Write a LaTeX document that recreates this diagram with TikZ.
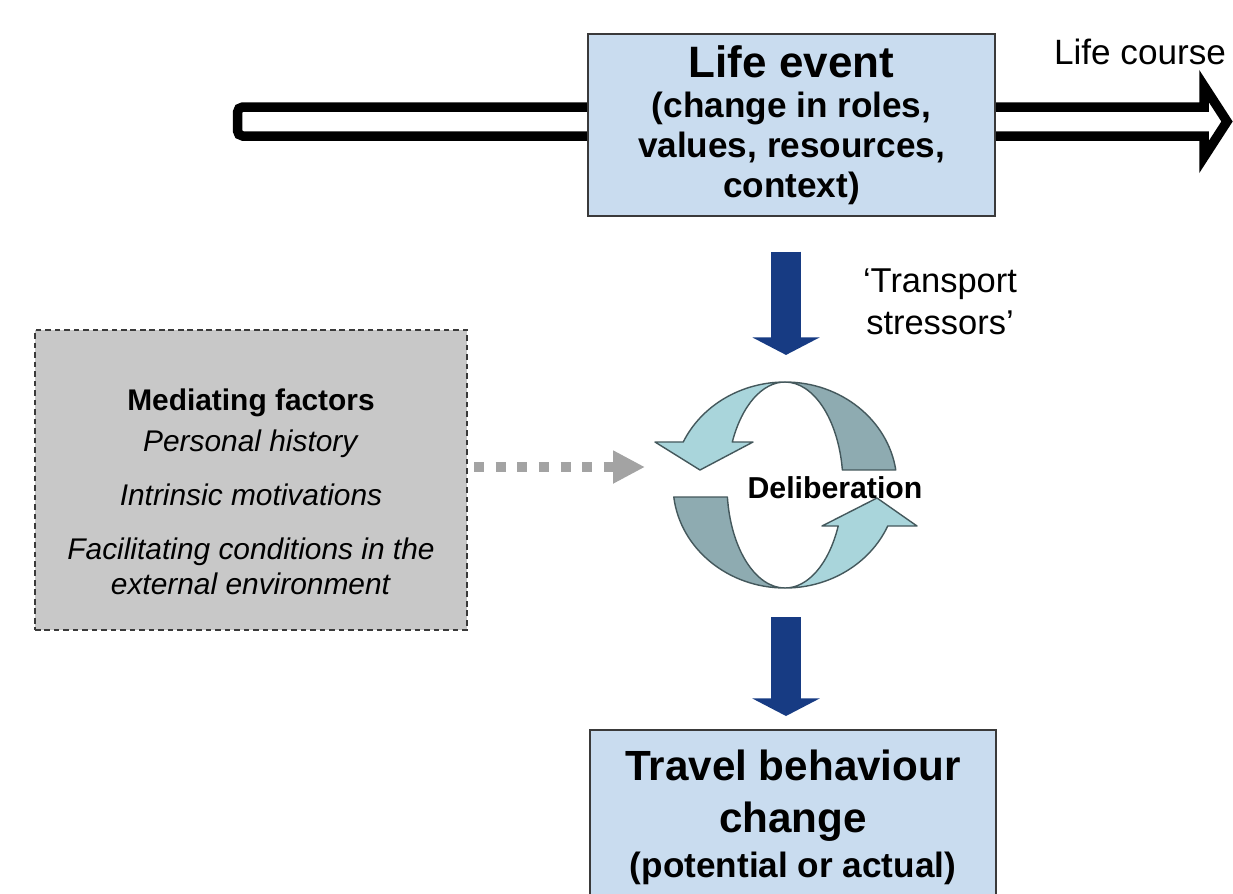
\documentclass[tikz,border=0pt]{standalone}
\usepackage{fontspec}
\setmainfont{Liberation Sans}
\usepackage{tikz}
\usetikzlibrary{arrows.meta,positioning}
\definecolor{BoxBlue}{HTML}{C9DCEF}
\definecolor{BoxEdge}{HTML}{3A3A3A}
\definecolor{MedGray}{HTML}{C8C8C8}
\definecolor{CycLight}{HTML}{A9D5DB}
\definecolor{CycDark}{HTML}{8EABB1}
\definecolor{CycEdge}{HTML}{44585C}
\definecolor{NavyArrow}{HTML}{173B83}
\definecolor{DotGray}{HTML}{A3A3A3}
\tikzset{
  bluebox/.style={draw=BoxEdge,line width=0.6pt,fill=BoxBlue,align=center,inner xsep=0pt},
  medbox/.style={draw=BoxEdge,dash pattern=on 1.6pt off 1.1pt,line width=0.5pt,fill=MedGray},
  medtext/.style={align=center,font=\fontsize{8.5}{10}\selectfont},
  cyclight/.style={fill=CycLight,draw=CycEdge,line width=0.4pt,line join=round},
  cycdark/.style={fill=CycDark,draw=CycEdge,line width=0.4pt,line join=round},
  navyarrow/.style={-{Triangle[width=19pt,length=5pt]},line width=8.5pt,draw=NavyArrow},
  dotarrow/.style={-{Triangle[width=8.8pt,length=9.1pt]},line width=2.8pt,draw=DotGray,dash pattern=on 2.85pt off 3.3pt},
  coursearrow/.style={draw=black,line width=2.7pt,fill=white,line join=miter},
  plainlabel/.style={align=center,font=\fontsize{9.8}{12}\selectfont}
}

\begin{document}
\begin{tikzpicture}[x=0.01cm,y=-0.01cm]
\useasboundingbox (0,0) rectangle (1233,893);
\fill[white] (0,0) rectangle (1233,893);
\draw[coursearrow] (700,107) -- (1204,107) -- (1204,86) -- (1227,121.5) -- (1204,157) -- (1204,136) [rounded corners=1.5pt] -- (237.5,136) -- (237.5,107) -- cycle;
\node[bluebox,minimum width=4.07cm,minimum height=1.78cm,font=\fontsize{10}{11.4}\selectfont\bfseries] (lifeevent) at (791.5,125)
  {{\fontsize{12.5}{11.4}\selectfont Life event}\\(change in roles,\\values, resources,\\context)};
\node[plainlabel,font=\fontsize{10}{12}\selectfont] (lifecourse) at (1140,52) {Life course};
\node[medbox,minimum width=4.32cm,minimum height=3.0cm] (mediating) at (251,480) {};
\node[medtext] (mediatingtext) at (251,492)
  {\textbf{Mediating factors}\\[1.6pt]\textit{Personal history}\\[5.4pt]\textit{Intrinsic motivations}\\[5.4pt]\textit{Facilitating conditions in the}\\\textit{external environment}};
\node[bluebox,anchor=north,minimum width=4.06cm,inner ysep=0.2cm,font=\fontsize{12}{12.8}\selectfont\bfseries] (travel) at (793,729)
  {Travel behaviour\\[2pt]change\\{\fontsize{10}{12.8}\selectfont (potential or actual)}};
\coordinate (cyc) at (786,485);
\coordinate (cyclein) at (645,467);
\begin{scope}[shift={(785,485)}]
\path[cycdark] (-8.4:112 and 103) arc[start angle=-8.4,end angle=-90,x radius=112,y radius=103]
  arc[start angle=-90,end angle=-8.4,x radius=58,y radius=103] -- cycle;
\path[cyclight] (-90:112 and 103) arc[start angle=-90,end angle=-155.3,x radius=112,y radius=103]
  -- (-130,-43) -- (-85,-15) -- (-32,-43) -- (-155.3:58 and 103)
  arc[start angle=-155.3,end angle=-90,x radius=58,y radius=103] -- cycle;
\path[cycdark] (173.3:112 and 103) arc[start angle=173.3,end angle=90,x radius=112,y radius=103]
  arc[start angle=90,end angle=173.3,x radius=58,y radius=103] -- cycle;
\path[cyclight] (90:112 and 103) arc[start angle=90,end angle=23.45,x radius=112,y radius=103]
  -- (132,41) -- (92,13) -- (37,41) -- (23.45:58 and 103)
  arc[start angle=23.45,end angle=90,x radius=58,y radius=103] -- cycle;
\end{scope}
\node[font=\fontsize{8.6}{10}\selectfont\bfseries] (deliberation) at (835,488) {Deliberation};
\node[plainlabel] (stressors) at (940,302) {`Transport\\stressors'};
\draw[navyarrow,shorten <=0.34cm,shorten >=1.30cm] (lifeevent.south -| cyc) -- (cyc);
\draw[navyarrow,shorten <=1.32cm,shorten >=0.13cm] (cyc) -- (cyc |- travel.north);
\draw[dotarrow,shorten <=0.06cm] (mediating.east |- cyclein) -- (cyclein);
\end{tikzpicture}
\end{document}
